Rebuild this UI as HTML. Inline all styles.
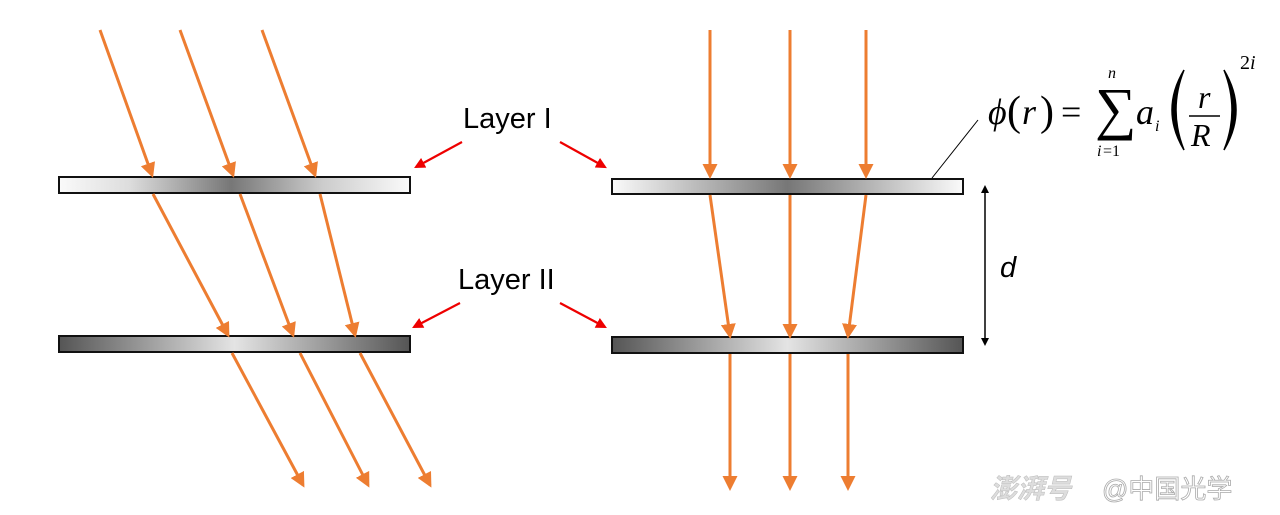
<!DOCTYPE html>
<html><head><meta charset="utf-8"><style>
body{margin:0;background:#fff;width:1280px;height:510px;overflow:hidden}
</style></head><body>
<svg width="1280" height="510" xmlns="http://www.w3.org/2000/svg">
<defs>
<linearGradient id="g1" x1="0" x2="1"><stop offset="0" stop-color="#fafafa"/><stop offset="0.2" stop-color="#ddd"/><stop offset="0.49" stop-color="#777"/><stop offset="0.75" stop-color="#ccc"/><stop offset="1" stop-color="#fafafa"/></linearGradient>
<linearGradient id="g2" x1="0" x2="1"><stop offset="0" stop-color="#fafafa"/><stop offset="0.5" stop-color="#777"/><stop offset="1" stop-color="#fafafa"/></linearGradient>
<linearGradient id="g3" x1="0" x2="1"><stop offset="0" stop-color="#555"/><stop offset="0.5" stop-color="#e4e4e4"/><stop offset="1" stop-color="#555"/></linearGradient>
<marker id="ao" markerWidth="5" markerHeight="5" refX="4" refY="2.5" orient="auto" markerUnits="strokeWidth"><path d="M0,0 L5,2.5 L0,5 z" fill="#ed7d31"/></marker>
<marker id="ar" markerWidth="5" markerHeight="5" refX="4" refY="2.5" orient="auto" markerUnits="strokeWidth"><path d="M0,0 L5,2.5 L0,5 z" fill="#e00"/></marker>
<marker id="ab" markerWidth="8" markerHeight="8" refX="7" refY="4" orient="auto" markerUnits="userSpaceOnUse"><path d="M0,0 L8,4 L0,8 z" fill="#000"/></marker>
</defs>
<rect x="59" y="177" width="351" height="16" fill="url(#g1)" stroke="#111" stroke-width="2"/>
<rect x="59" y="336" width="351" height="16" fill="url(#g3)" stroke="#111" stroke-width="2"/>
<rect x="612" y="179" width="351" height="15" fill="url(#g2)" stroke="#111" stroke-width="2"/>
<rect x="612" y="337" width="351" height="16" fill="url(#g3)" stroke="#111" stroke-width="2"/>
<g stroke="#ed7d31" stroke-width="3" marker-end="url(#ao)" fill="none">
<line x1="100" y1="30" x2="152" y2="175"/><line x1="180" y1="30" x2="233" y2="175"/><line x1="262" y1="30" x2="315" y2="175"/>
<line x1="153" y1="194" x2="228" y2="335"/><line x1="240" y1="194" x2="293" y2="335"/><line x1="320" y1="194" x2="355" y2="335"/>
<line x1="232" y1="353" x2="303" y2="485"/><line x1="300" y1="353" x2="368" y2="485"/><line x1="360" y1="353" x2="430" y2="485"/>
<line x1="710" y1="30" x2="710" y2="176"/><line x1="790" y1="30" x2="790" y2="176"/><line x1="866" y1="30" x2="866" y2="176"/>
<line x1="710" y1="195" x2="730" y2="336"/><line x1="790" y1="195" x2="790" y2="336"/><line x1="866" y1="195" x2="848" y2="336"/>
<line x1="730" y1="354" x2="730" y2="488"/><line x1="790" y1="354" x2="790" y2="488"/><line x1="848" y1="354" x2="848" y2="488"/>
</g>
<g stroke="#e00" stroke-width="2.2" marker-end="url(#ar)">
<line x1="462" y1="142" x2="416" y2="167"/><line x1="560" y1="142" x2="605" y2="167"/>
<line x1="460" y1="303" x2="414" y2="327"/><line x1="560" y1="303" x2="605" y2="327"/>
</g>
<g font-family="Liberation Sans, sans-serif" font-size="29" fill="#000">
<text x="463" y="128">Layer I</text><text x="458" y="289">Layer II</text>
<text x="1000" y="277" font-style="italic">d</text>
</g>
<line x1="985" y1="190" x2="985" y2="186" stroke="#000" marker-end="url(#ab)"/>
<line x1="985" y1="188" x2="985" y2="343" stroke="#000" stroke-width="1.5"/>
<line x1="985" y1="340" x2="985" y2="345" stroke="#000" marker-end="url(#ab)"/>
<line x1="932" y1="178" x2="978" y2="120" stroke="#000" stroke-width="1"/>
<g font-family="Liberation Serif, serif" fill="#000" font-style="italic">
<text x="988" y="124" font-size="36">ϕ</text>
<text x="1007" y="125" font-size="42" font-style="normal">(</text>
<text x="1022" y="124" font-size="36">r</text>
<text x="1040" y="125" font-size="42" font-style="normal">)</text>
<text x="1061" y="124" font-size="36" font-style="normal">=</text>
<text x="1095" y="128" font-size="58" font-style="normal">∑</text>
<text x="1108" y="78" font-size="16">n</text>
<text x="1097" y="156" font-size="16">i</text><text x="1103" y="156" font-size="16" font-style="normal">=1</text>
<text x="1136" y="124" font-size="36">a</text><text x="1155" y="131" font-size="16">i</text>
<text x="1198" y="108" font-size="32">r</text>
<line x1="1189" y1="116" x2="1220" y2="116" stroke="#000" stroke-width="1.5"/>
<text x="1191" y="146" font-size="32">R</text>
<text x="1240" y="69" font-size="20" font-style="normal">2</text><text x="1250" y="69" font-size="20">i</text>
</g>
<path d="M1184,70 Q1160,110 1184,150 Q1168,110 1184,70 Z" fill="#000" stroke="#000" stroke-width="1.5"/>
<path d="M1224,70 Q1248,110 1224,150 Q1240,110 1224,70 Z" fill="#000" stroke="#000" stroke-width="1.5"/>
<text x="990" y="498" font-family="Noto Sans CJK SC, sans-serif" font-size="27" font-style="italic" font-weight="bold" fill="#ddd" stroke="#bbb" stroke-width="0.5">澎湃号</text>
<text x="1102" y="498" font-family="Liberation Sans, Noto Sans CJK SC, sans-serif" font-size="26" fill="#fff" stroke="#aaa" stroke-width="0.8">@中国光学</text>
</svg>
</body></html>
